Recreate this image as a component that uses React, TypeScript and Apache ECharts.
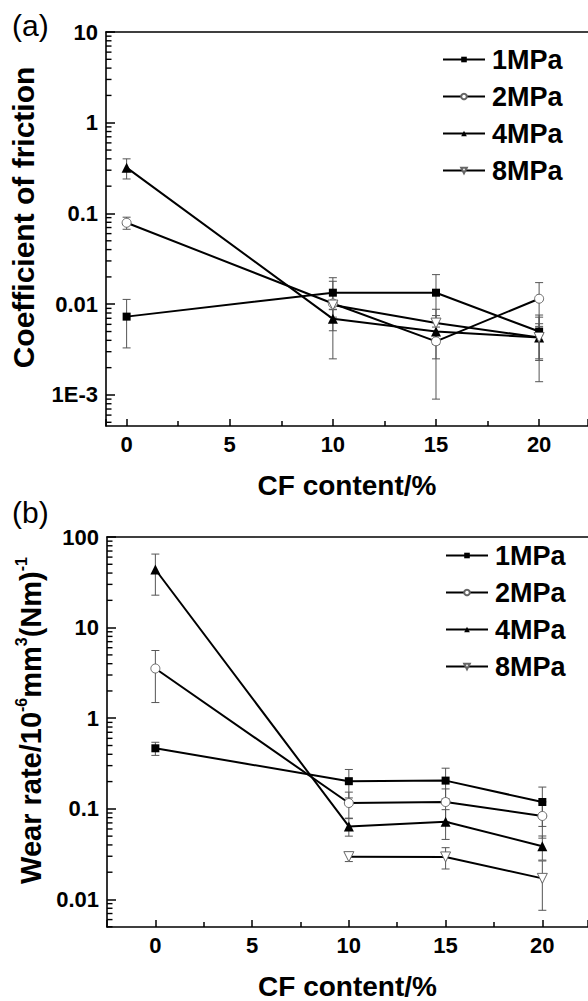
import React, { useEffect, useRef } from "react";
import * as echarts from "echarts";

// ---------- data ----------
const cfContent = [0, 10, 15, 20];
const pressures = ["1MPa", "2MPa", "4MPa", "8MPa"];

// (a) coefficient of friction
const cof1MPa = [0.0073, 0.0134, 0.0134, 0.005];
const cof1MPaErr = [0.004, 0.0062, 0.0078, 0.0026];
const cof2MPa = [0.079, 0.0102, 0.0039, 0.0115];
const cof2MPaErr = [0.012, 0.0077, 0.003, 0.0058];
const cof4MPa = [0.32, 0.0069, 0.005, 0.0043];
const cof4MPaErr = [0.08, 0.0018, 0.0025, 0.0018];
const cof8MPa = [null, 0.0098, 0.0062, 0.0043];
const cof8MPaErr = [null, 0.001, 0.0026, 0.0029];

// (b) wear rate
const wear1MPa = [0.466, 0.202, 0.205, 0.119];
const wear1MPaErr = [0.077, 0.07, 0.076, 0.055];
const wear2MPa = [3.54, 0.116, 0.119, 0.0835];
const wear2MPaErr = [2.05, 0.037, 0.047, 0.036];
const wear4MPa = [43.8, 0.064, 0.072, 0.0387];
const wear4MPaErr = [21, 0.014, 0.026, 0.0115];
const wear8MPa = [null, 0.0297, 0.0295, 0.0171];
const wear8MPaErr = [null, 0.0035, 0.0078, 0.0095];

const cofTickLabels: Record<string, string> = { "-3": "1E-3", "-2": "0.01", "-1": "0.1", "0": "1", "1": "10" };
const wearTickLabels: Record<string, string> = { "-2": "0.01", "-1": "0.1", "0": "1", "1": "10", "2": "100" };

const FONT = '"Liberation Sans", Arial, Helvetica, sans-serif';

// axis extents
const topX = { min: -1, max: 22.37 };
const topY = { min: 4.55e-4, max: 10 };
const botX = { min: -2.5, max: 22.36 };
const botY = { min: 0.00497, max: 100 };

const markerStyles = [
  { symbol: "rect", symbolSize: 8, symbolRotate: 0, itemStyle: { color: "#000" } },
  { symbol: "circle", symbolSize: 9, symbolRotate: 0, itemStyle: { color: "#fff", borderColor: "#666", borderWidth: 1 } },
  { symbol: "triangle", symbolSize: 10, symbolRotate: 0, itemStyle: { color: "#000" } },
  { symbol: "triangle", symbolSize: 10, symbolRotate: 180, itemStyle: { color: "#fff", borderColor: "#666", borderWidth: 1 } },
];

function pairs(vals: (number | null)[]) {
  const out: number[][] = [];
  cfContent.forEach((x, i) => {
    const v = vals[i];
    if (v != null) out.push([x, v]);
  });
  return out;
}

function errData(vals: (number | null)[], errs: (number | null)[]) {
  const out: number[][] = [];
  cfContent.forEach((x, i) => {
    const v = vals[i];
    const e = errs[i];
    if (v != null && e != null) out.push([x, v - e, v + e]);
  });
  return out;
}

function minorLogValues(min: number, max: number) {
  const out: number[] = [];
  for (let d = Math.floor(Math.log10(min)); d <= Math.ceil(Math.log10(max)); d++) {
    for (let k = 2; k <= 9; k++) {
      const v = k * Math.pow(10, d);
      if (v > min && v < max) out.push(v);
    }
  }
  return out;
}

export default function App() {
  const ref = useRef<HTMLDivElement>(null);

  useEffect(() => {
    if (!ref.current) return;
    const chart = echarts.init(ref.current, undefined, { renderer: "svg" });

    const tickLabelStyle = { fontFamily: FONT, fontSize: 22, fontWeight: "bold" as const, color: "#000" };
    const axisLineStyle = { color: "#000", width: 1.6 };

    const makeX = (gridIndex: number, ext: { min: number; max: number }) => ({
      type: "value",
      gridIndex,
      min: ext.min,
      max: ext.max,
      name: "CF content/%",
      nameLocation: "middle",
      nameGap: 45,
      nameTextStyle: { fontFamily: FONT, fontSize: 28, fontWeight: "bold", color: "#000" },
      axisLine: { show: true, onZero: false, lineStyle: axisLineStyle },
      axisTick: { show: true, inside: true, length: 7, lineStyle: { color: "#000", width: 1.5 } },
      minorTick: { show: true, splitNumber: 2, length: 5, lineStyle: { color: "#000", width: 1.5 } },
      axisLabel: { ...tickLabelStyle, margin: 7, showMinLabel: false, showMaxLabel: false },
      splitLine: { show: false },
      minorSplitLine: { show: false },
    });

    const makeTopFrame = (gridIndex: number, ext: { min: number; max: number }) => ({
      type: "value",
      gridIndex,
      position: "top",
      min: ext.min,
      max: ext.max,
      axisLine: { show: true, onZero: false, lineStyle: axisLineStyle },
      axisTick: { show: false },
      axisLabel: { show: false },
      splitLine: { show: false },
    });

    const makeY = (
      gridIndex: number,
      ext: { min: number; max: number },
      labels: Record<string, string>,
      name: string,
      nameGap: number,
      fontSize: number,
      rich?: any
    ) => ({
      type: "log",
      logBase: 10,
      gridIndex,
      min: ext.min,
      max: ext.max,
      name,
      nameLocation: "middle",
      nameGap,
      nameTextStyle: {
        fontFamily: FONT,
        fontSize,
        fontWeight: "bold",
        color: "#000",
        padding: [0, 0, 0, 23],
        rich,
      },
      axisLine: { show: true, onZero: false, lineStyle: axisLineStyle },
      axisTick: { show: true, inside: true, length: 9, lineStyle: { color: "#000", width: 1.5 } },
      axisLabel: {
        ...tickLabelStyle,
        margin: 8,
        showMinLabel: false,
        formatter: (v: number) => {
          const k = String(Math.round(Math.log10(v)));
          return labels[k] ?? "";
        },
      },
      splitLine: { show: false },
    });

    const minorTickSeries = (xi: number, xMin: number, ext: { min: number; max: number }) => ({
      type: "custom",
      xAxisIndex: xi,
      yAxisIndex: xi / 2,
      silent: true,
      clip: false,
      z: 6,
      data: minorLogValues(ext.min, ext.max).map((v) => [xMin, v]),
      encode: { x: 0, y: 1 },
      renderItem: (_p: any, api: any) => {
        const pt = api.coord([api.value(0), api.value(1)]);
        return {
          type: "line",
          shape: { x1: pt[0], y1: pt[1], x2: pt[0] + 5.5, y2: pt[1] },
          style: { stroke: "#000", lineWidth: 1.4 },
        };
      },
    });

    const errorSeries = (xi: number, data: number[][]) => ({
      type: "custom",
      xAxisIndex: xi,
      yAxisIndex: xi / 2,
      silent: true,
      z: 2,
      data,
      encode: { x: 0, y: [1, 2] },
      renderItem: (_p: any, api: any) => {
        const x = api.value(0);
        const top = api.coord([x, api.value(2)]);
        const bot = api.coord([x, api.value(1)]);
        const w = 4;
        const style = { stroke: "#555", lineWidth: 1 };
        return {
          type: "group",
          children: [
            { type: "line", shape: { x1: top[0], y1: top[1], x2: bot[0], y2: bot[1] }, style },
            { type: "line", shape: { x1: top[0] - w, y1: top[1], x2: top[0] + w, y2: top[1] }, style },
            { type: "line", shape: { x1: bot[0] - w, y1: bot[1], x2: bot[0] + w, y2: bot[1] }, style },
          ],
        };
      },
    });

    const lineSeries = (xi: number, idx: number, vals: (number | null)[]) => ({
      type: "line",
      name: pressures[idx],
      xAxisIndex: xi,
      yAxisIndex: xi / 2,
      data: pairs(vals),
      z: 5,
      symbol: markerStyles[idx].symbol,
      symbolSize: markerStyles[idx].symbolSize,
      symbolRotate: markerStyles[idx].symbolRotate,
      itemStyle: markerStyles[idx].itemStyle,
      lineStyle: { color: "#000", width: 2 },
      showAllSymbol: true,
    });

    const cofVals = [cof1MPa, cof2MPa, cof4MPa, cof8MPa];
    const cofErrs = [cof1MPaErr, cof2MPaErr, cof4MPaErr, cof8MPaErr];
    const wearVals = [wear1MPa, wear2MPa, wear4MPa, wear8MPa];
    const wearErrs = [wear1MPaErr, wear2MPaErr, wear4MPaErr, wear8MPaErr];

    const legendBase = {
      data: pressures,
      orient: "vertical",
      itemWidth: 42,
      itemHeight: 7,
      itemGap: 10,
      selectedMode: false,
      textStyle: { fontFamily: FONT, fontSize: 27, fontWeight: "bold", color: "#000", lineHeight: 27, padding: [0, 0, 0, 2] },
    };

    const wearRich = {
      sup: { fontFamily: FONT, fontSize: 16, fontWeight: "bold", color: "#000", verticalAlign: "top", lineHeight: 34 },
    };

    chart.setOption({
      animation: false,
      backgroundColor: "#fff",
      grid: [
        { left: 105, top: 32, width: 483, height: 394, containLabel: false },
        { left: 107, top: 537, width: 481, height: 392, containLabel: false },
      ],
      xAxis: [makeX(0, topX), makeTopFrame(0, topX), makeX(1, botX), makeTopFrame(1, botX)],
      yAxis: [
        makeY(0, topY, cofTickLabels, "Coefficient of friction", 68, 30),
        makeY(
          1,
          botY,
          wearTickLabels,
          "Wear rate/10{sup|-6}mm{sup|3}(Nm){sup|-1}",
          59,
          29,
          wearRich
        ),
      ],
      legend: [
        { ...legendBase, left: 437, top: 41 },
        { ...legendBase, left: 440, top: 537 },
      ],
      graphic: [
        { type: "text", x: 12, y: 25, style: { text: "(a)", fontFamily: FONT, fontSize: 30, fill: "#000", verticalAlign: "middle" } },
        { type: "text", x: 12, y: 512, style: { text: "(b)", fontFamily: FONT, fontSize: 30, fill: "#000", verticalAlign: "middle" } },
      ],
      series: [
        minorTickSeries(0, topX.min, topY),
        minorTickSeries(2, botX.min, botY),
        ...cofVals.map((_, i) => errorSeries(0, errData(cofVals[i], cofErrs[i]))),
        ...wearVals.map((_, i) => errorSeries(2, errData(wearVals[i], wearErrs[i]))),
        ...cofVals.map((v, i) => lineSeries(0, i, v)),
        ...wearVals.map((v, i) => lineSeries(2, i, v)),
      ],
    });

    return () => chart.dispose();
  }, []);

  return <div ref={ref} style={{ position: "fixed", left: 0, top: 0, width: 588, height: 1001 }} />;
}
